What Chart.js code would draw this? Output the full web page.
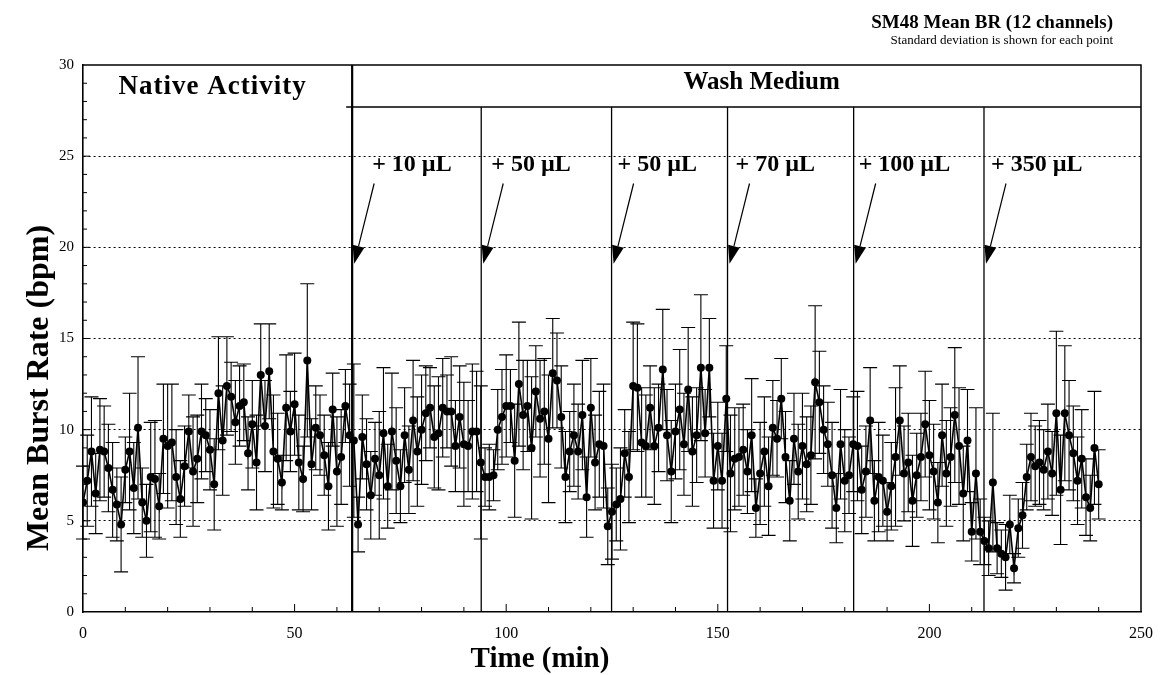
<!DOCTYPE html>
<html>
<head>
<meta charset="utf-8">
<script src="https://cdn.jsdelivr.net/npm/chart.js@4.4.0/dist/chart.umd.min.js"></script>
<style>
  html, body { margin: 0; padding: 0; background: #fff; }
  #wrap { width: 1162px; height: 675px; }
</style>
</head>
<body>
<div id="wrap"><canvas id="chart"></canvas></div>
<script>
// Time of each sample (min)
const minutes = [
  0, 1, 2, 3, 4, 5, 6, 7, 8, 9, 10, 11, 12, 13, 14, 15, 16, 17, 18, 19,
  20, 21, 22, 23, 24, 25, 26, 27, 28, 29, 30, 31, 32, 33, 34, 35, 36, 37, 38, 39,
  40, 41, 42, 43, 44, 45, 46, 47, 48, 49, 50, 51, 52, 53, 54, 55, 56, 57, 58, 59,
  60, 61, 62, 63, 64, 65, 66, 67, 68, 69, 70, 71, 72, 73, 74, 75, 76, 77, 78, 79,
  80, 81, 82, 83, 84, 85, 86, 87, 88, 89, 90, 91, 92, 93, 94, 95, 96, 97, 98, 99,
  100, 101, 102, 103, 104, 105, 106, 107, 108, 109, 110, 111, 112, 113, 114, 115, 116, 117, 118, 119,
  120, 121, 122, 123, 124, 125, 126, 127, 128, 129, 130, 131, 132, 133, 134, 135, 136, 137, 138, 139,
  140, 141, 142, 143, 144, 145, 146, 147, 148, 149, 150, 151, 152, 153, 154, 155, 156, 157, 158, 159,
  160, 161, 162, 163, 164, 165, 166, 167, 168, 169, 170, 171, 172, 173, 174, 175, 176, 177, 178, 179,
  180, 181, 182, 183, 184, 185, 186, 187, 188, 189, 190, 191, 192, 193, 194, 195, 196, 197, 198, 199,
  200, 201, 202, 203, 204, 205, 206, 207, 208, 209, 210, 211, 212, 213, 214, 215, 216, 217, 218, 219,
  220, 221, 222, 223, 224, 225, 226, 227, 228, 229, 230, 231, 232, 233, 234, 235, 236, 237, 238, 239,
  240
];

// mean burst rate over the 12 channels (bpm)
const meanRate = [
  6.0, 7.2, 8.8, 6.5, 8.9, 8.8, 7.9, 6.7, 5.9, 4.8,
  7.8, 8.8, 6.8, 10.1, 6.0, 5.0, 7.4, 7.3, 5.8, 9.5,
  9.1, 9.3, 7.4, 6.2, 8.0, 9.9, 7.7, 8.4, 9.9, 9.7,
  8.9, 7.0, 12.0, 9.4, 12.4, 11.8, 10.4, 11.3, 11.5, 8.7,
  10.3, 8.2, 13.0, 10.2, 13.2, 8.8, 8.4, 7.1, 11.2, 9.9,
  11.4, 8.2, 7.3, 13.8, 8.1, 10.1, 9.7, 8.6, 6.9, 11.1,
  7.7, 8.5, 11.3, 9.7, 9.4, 4.8, 9.6, 8.1, 6.4, 8.4,
  7.5, 9.8, 6.9, 9.9, 8.3, 6.9, 9.7, 7.8, 10.5, 8.8,
  10.0, 10.9, 11.2, 9.6, 9.8, 11.2, 11.0, 11.0, 9.1, 10.7,
  9.2, 9.1, 9.9, 9.9, 8.2, 7.4, 7.4, 7.5, 10.0, 10.7,
  11.3, 11.3, 8.3, 12.5, 10.8, 11.3, 9.0, 12.1, 10.6, 11.0,
  9.5, 13.1, 12.7, 10.7, 7.4, 8.8, 9.7, 8.8, 10.8, 6.3,
  11.2, 8.2, 9.2, 9.1, 4.7, 5.5, 5.9, 6.2, 8.7, 7.4,
  12.4, 12.3, 9.3, 9.1, 11.2, 9.1, 10.1, 13.3, 9.7, 7.7,
  9.9, 11.1, 9.2, 12.2, 8.8, 9.7, 13.4, 9.8, 13.4, 7.2,
  9.1, 7.2, 11.7, 7.6, 8.4, 8.5, 8.9, 7.7, 9.7, 5.7,
  7.6, 8.8, 6.9, 10.1, 9.5, 11.7, 8.5, 6.1, 9.5, 7.7,
  9.1, 8.1, 8.6, 12.6, 11.5, 10.0, 9.2, 7.5, 5.7, 9.2,
  7.2, 7.5, 9.2, 9.1, 6.7, 7.7, 10.5, 6.1, 7.4, 7.2,
  5.5, 6.9, 8.5, 10.5, 7.6, 8.2, 6.1, 7.5, 8.5, 10.3,
  8.6, 7.7, 6.0, 9.7, 7.6, 8.5, 10.8, 9.1, 6.5, 9.4,
  4.4, 7.6, 4.4, 3.9, 3.5, 7.1, 3.5, 3.2, 3.0, 4.8,
  2.4, 4.6, 5.3, 7.4, 8.5, 8.0, 8.2, 7.8, 8.8, 7.6,
  10.9, 6.7, 10.9, 9.7, 8.7, 7.2, 8.4, 6.3, 5.7, 9.0,
  7.0
];

// standard deviation of each point (bpm)
const rateSD = [
  2.0, 2.5, 3.0, 2.2, 2.8, 2.5, 2.4, 2.6, 2.0, 2.6,
  1.8, 3.2, 2.5, 3.9, 1.9, 2.0, 3.0, 3.2, 1.8, 3.0,
  3.4, 3.2, 2.6, 2.1, 2.2, 2.0, 3.0, 2.4, 2.6, 2.0,
  2.2, 2.5, 3.1, 3.0, 2.7, 1.9, 2.3, 2.2, 2.1, 2.0,
  2.4, 2.6, 2.8, 2.5, 2.6, 3.1, 2.5, 1.5, 2.9, 2.2,
  2.8, 2.6, 1.8, 4.2, 2.5, 2.3, 2.2, 2.2, 2.4, 2.0,
  3.0, 2.6, 2.0, 2.8, 4.2, 1.5, 2.3, 2.5, 2.4, 2.0,
  3.5, 3.6, 2.3, 3.2, 2.9, 2.0, 2.6, 2.4, 3.3, 3.0,
  3.0, 2.6, 2.2, 2.8, 3.1, 2.7, 2.0, 3.0, 2.5, 2.8,
  3.4, 2.5, 3.7, 3.3, 4.2, 1.6, 1.8, 1.4, 2.2, 2.6,
  2.8, 2.0, 3.1, 3.4, 3.0, 2.5, 3.9, 2.5, 3.2, 2.9,
  3.5, 3.0, 2.6, 2.8, 2.5, 2.2, 2.8, 2.6, 3.0, 2.2,
  2.7, 2.6, 2.9, 3.4, 2.1, 2.6, 2.0, 2.8, 2.4, 2.5,
  3.5, 3.5, 3.0, 2.8, 2.3, 3.2, 2.4, 3.3, 2.5, 2.8,
  2.6, 3.3, 2.8, 3.4, 3.0, 2.6, 4.0, 2.4, 2.7, 2.6,
  2.4, 2.6, 2.9, 3.2, 2.8, 2.7, 2.5, 2.3, 3.1, 1.6,
  2.8, 3.0, 2.7, 2.6, 2.1, 2.2, 2.5, 2.2, 2.5, 2.6,
  2.9, 2.6, 2.7, 4.2, 2.8, 2.4, 2.3, 2.9, 1.9, 3.0,
  2.8, 2.1, 2.6, 3.0, 2.4, 2.5, 2.9, 2.2, 3.0, 2.5,
  1.6, 2.4, 3.8, 3.0, 2.6, 2.7, 2.5, 2.3, 2.4, 2.9,
  3.0, 2.6, 2.2, 2.8, 2.9, 2.7, 3.7, 3.2, 2.6, 2.8,
  1.6, 3.6, 1.8, 1.3, 1.5, 3.8, 1.4, 1.3, 1.8, 1.6,
  0.8, 1.6, 1.8, 1.8, 2.4, 2.2, 2.3, 2.2, 2.6, 2.3,
  4.5, 3.0, 3.7, 3.0, 2.6, 2.4, 2.7, 2.1, 1.8, 3.1,
  1.9
];

// when wash medium starts and when each dose was added (min)
const washStart = 63.6;
const additionTimes = [63.6, 94.1, 124.9, 152.3, 182.1, 212.9];
const additionLabels = ['+ 10 \u00b5L', '+ 50 \u00b5L', '+ 50 \u00b5L', '+ 70 \u00b5L', '+ 100 \u00b5L', '+ 350 \u00b5L'];
const phaseLabels = ['Native Activity', 'Wash Medium'];

const SERIF = '"Liberation Serif", "Times New Roman", serif';
Chart.defaults.font.family = SERIF;
Chart.defaults.color = '#000';

const HEADER_Y = 27.7; // value where the wash header line sits

const overlay = {
  id: 'overlay',
  beforeDatasetsDraw(chart) {
    const { ctx, scales: { x, y } } = chart;
    ctx.save();
    ctx.strokeStyle = '#000';
    ctx.lineWidth = 1.1;
    ctx.beginPath();
    minutes.forEach((t, i) => {
      const px = x.getPixelForValue(t);
      const top = y.getPixelForValue(meanRate[i] + rateSD[i]);
      const bot = y.getPixelForValue(Math.max(0, meanRate[i] - rateSD[i]));
      ctx.moveTo(px, top); ctx.lineTo(px, bot);
      ctx.moveTo(px - 7, top); ctx.lineTo(px + 7, top);
      ctx.moveTo(px - 7, bot); ctx.lineTo(px + 7, bot);
    });
    ctx.stroke();
    ctx.restore();
  },
  afterDraw(chart) {
    const { ctx, scales: { x, y } } = chart;
    const x0 = x.getPixelForValue(0), x1 = x.getPixelForValue(250);
    const yTop = y.getPixelForValue(30), yBot = y.getPixelForValue(0);
    const yHead = y.getPixelForValue(HEADER_Y);
    ctx.save();
    ctx.strokeStyle = '#000';
    ctx.fillStyle = '#000';

    // frame top + right
    ctx.lineWidth = 1.5;
    ctx.beginPath();
    ctx.moveTo(x0, yTop); ctx.lineTo(x1, yTop); ctx.lineTo(x1, yBot);
    ctx.stroke();

    // minor ticks
    ctx.lineWidth = 1;
    ctx.beginPath();
    for (let v = 1; v < 30; v++) {
      const py = y.getPixelForValue(v);
      ctx.moveTo(x0, py); ctx.lineTo(x0 + (v % 5 === 0 ? 7 : 4), py);
    }
    for (let t = 10; t < 250; t += 10) {
      const px = x.getPixelForValue(t);
      ctx.moveTo(px, yBot); ctx.lineTo(px, yBot - (t % 50 === 0 ? 8 : 5));
    }
    ctx.stroke();

    // wash medium divider + header line
    ctx.lineWidth = 2.2;
    ctx.beginPath();
    const xw = x.getPixelForValue(washStart);
    ctx.moveTo(xw, yTop); ctx.lineTo(xw, yBot);
    ctx.stroke();
    ctx.lineWidth = 1.5;
    ctx.beginPath();
    ctx.moveTo(xw - 6, yHead); ctx.lineTo(x1, yHead);
    ctx.stroke();

    // dose lines, arrows, labels
    const labelShift = [20, 10, 6, 8, 5, 7];
    ctx.font = 'bold 24px ' + SERIF;
    ctx.textBaseline = 'alphabetic';
    ctx.textAlign = 'left';
    additionTimes.forEach((t, i) => {
      const px = x.getPixelForValue(t);
      ctx.lineWidth = 1.3;
      ctx.beginPath();
      ctx.moveTo(px, yHead); ctx.lineTo(px, yBot);
      ctx.stroke();

      const sx = px + 22, sy = y.getPixelForValue(23.5);
      const tx = px + 2, ty = y.getPixelForValue(19.1);
      const ang = Math.atan2(ty - sy, tx - sx);
      const hl = 18, hw = 6;
      const bx = tx - hl * Math.cos(ang), by = ty - hl * Math.sin(ang);
      ctx.lineWidth = 1.2;
      ctx.beginPath();
      ctx.moveTo(sx, sy); ctx.lineTo(bx, by);
      ctx.stroke();
      ctx.beginPath();
      ctx.moveTo(tx, ty);
      ctx.lineTo(bx + hw * Math.sin(ang), by - hw * Math.cos(ang));
      ctx.lineTo(bx - hw * Math.sin(ang), by + hw * Math.cos(ang));
      ctx.closePath();
      ctx.fill();

      ctx.fillText(additionLabels[i], px + labelShift[i], y.getPixelForValue(24.2));
    });

    // phase labels
    ctx.textAlign = 'center';
    ctx.font = 'bold 27px ' + SERIF;
    ctx.letterSpacing = '1px';
    ctx.fillText(phaseLabels[0], (x0 + xw) / 2 - 5, y.getPixelForValue(28.4));
    ctx.font = 'bold 25px ' + SERIF;
    ctx.letterSpacing = '0px';
    ctx.fillText(phaseLabels[1], (xw + x1) / 2 + 15, y.getPixelForValue(28.7));

    // title block
    ctx.textAlign = 'right';
    ctx.font = 'bold 19px ' + SERIF;
    ctx.fillText('SM48 Mean BR (12 channels)', 1113, 28);
    ctx.font = '13px ' + SERIF;
    ctx.fillText('Standard deviation is shown for each point', 1113, 44);

    // axis titles
    ctx.textAlign = 'center';
    ctx.textBaseline = 'middle';
    ctx.font = 'bold 29px ' + SERIF;
    ctx.fillText('Time (min)', 540, 660);
    ctx.translate(40, 388);
    ctx.rotate(-Math.PI / 2);
    ctx.font = 'bold 32px ' + SERIF;
    ctx.fillText('Mean Burst Rate (bpm)', 0, 0);
    ctx.restore();
  }
};

new Chart(document.getElementById('chart'), {
  type: 'line',
  data: {
    datasets: [{
      data: minutes.map((t, i) => ({ x: t, y: meanRate[i] })),
      borderColor: '#000',
      borderWidth: 1.6,
      backgroundColor: '#000',
      pointRadius: 4,
      pointBorderWidth: 0,
      pointBackgroundColor: '#000',
      tension: 0
    }]
  },
  options: {
    responsive: true,
    maintainAspectRatio: false,
    animation: false,
    layout: { padding: { left: 8, right: 21, top: 65, bottom: 6 } },
    plugins: {
      legend: { display: false },
      tooltip: { enabled: false },
      title: { display: false }
    },
    scales: {
      x: {
        type: 'linear',
        min: 0,
        max: 250,
        ticks: { stepSize: 50, padding: 4, font: { size: 16 }, color: '#000', maxRotation: 0 },
        grid: { display: false },
        border: { display: true, color: '#000', width: 1.6 },
        afterFit: (scale) => { scale.height = 57; }
      },
      y: {
        min: 0,
        max: 30,
        ticks: { stepSize: 5, padding: 9, font: { size: 15 }, color: '#000' },
        grid: {
          drawTicks: false,
          lineWidth: 1,
          color: (c) => (c.tick && (c.tick.value === 0 || c.tick.value === 30)) ? 'rgba(0,0,0,0)' : '#000'
        },
        border: { display: true, color: '#000', width: 1.6, dash: [2, 3] },
        afterFit: (scale) => { scale.width = 75; }
      }
    }
  },
  plugins: [overlay]
});
</script>
</body>
</html>
